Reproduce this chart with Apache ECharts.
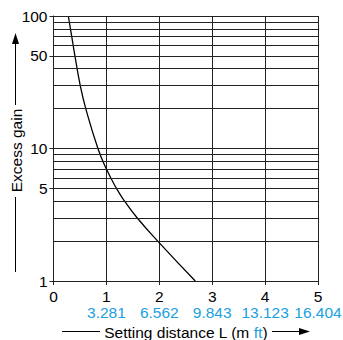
<!DOCTYPE html>
<html>
<head>
<meta charset="utf-8">
<script src="https://cdn.jsdelivr.net/npm/echarts@6/dist/echarts.min.js"></script>
</head>
<body style="margin:0;background:#fff">
<div id="container" style="width:343px;height:340px;"></div>
<script type="text/javascript">
// curve: [distance m, excess gain]
var curve = [[0.28, 100], [0.345, 70], [0.405, 50], [0.505, 30], [0.61, 20], [0.84, 10],
             [1.00, 7], [1.19, 5], [1.345, 4], [1.58, 3], [1.97, 2], [2.68, 1]];
var xTicks = [0, 1, 2, 3, 4, 5];
var ftLabels = ['', '3.281', '6.562', '9.843', '13.123', '16.404'];
var yLabels = [1, 5, 10, 50, 100];
var gridLevels = [2, 3, 4, 5, 6, 7, 8, 9, 10, 20, 30, 40, 50, 60, 70, 80, 90, 100];

var blue = '#1a9fe0';
var ink = '#222';
var font = 'Liberation Sans, Arial, sans-serif';
var fs = 15.5;

var dom = document.getElementById('container');
var myChart = echarts.init(dom, null, {renderer: 'svg'});
var option = {
    animation: false,
    textStyle: {fontFamily: font},
    grid: {left: 53.5, right: 25, top: 16, bottom: 59, outerBoundsMode: 'none', containLabel: false},
    xAxis: {
        type: 'value', min: 0, max: 5, interval: 1,
        axisLine: {onZero: false, lineStyle: {color: ink, width: 1}},
        axisTick: {length: 4, lineStyle: {color: ink}},
        splitLine: {show: true, lineStyle: {color: ink, width: 1}},
        axisLabel: {
            margin: 7,
            formatter: function (v) {
                var i = xTicks.indexOf(v);
                return '{m|' + v + '}\n{f|' + (ftLabels[i] || ' ') + '}';
            },
            rich: {
                m: {fontSize: fs, color: '#000', lineHeight: 16, fontFamily: font},
                f: {fontSize: fs, color: blue, lineHeight: 16, fontFamily: font}
            }
        },
        name: '{t|Setting distance L (m }{b|ft}{t|)}',
        nameLocation: 'middle',
        nameGap: 43,
        nameTextStyle: {
            rich: {
                t: {fontSize: fs, color: '#000', fontFamily: font},
                b: {fontSize: fs, color: blue, fontFamily: font}
            }
        }
    },
    yAxis: {
        type: 'log', logBase: 10, min: 1, max: 100,
        axisLine: {lineStyle: {color: ink, width: 1}},
        axisTick: {show: true, length: 4, customValues: yLabels, lineStyle: {color: ink}},
        splitLine: {show: false},
        minorTick: {show: false},
        axisLabel: {margin: 6, fontSize: fs, color: '#000', customValues: yLabels, fontFamily: font}
    },
    graphic: [
        {type: 'text', x: 16, y: 150.5, rotation: Math.PI / 2,
         style: {text: 'Excess gain', fontSize: fs, fontFamily: font, fill: '#000', align: 'center', verticalAlign: 'middle'}},
        {type: 'line', shape: {x1: 15.5, y1: 197, x2: 15.5, y2: 272}, style: {stroke: '#000', lineWidth: 1}},
        {type: 'line', shape: {x1: 15.5, y1: 105, x2: 15.5, y2: 42}, style: {stroke: '#000', lineWidth: 1}},
        {type: 'polygon', shape: {points: [[15.5, 33], [12, 44], [19, 44]]}, style: {fill: '#000'}},
        {type: 'line', shape: {x1: 62, y1: 331.5, x2: 100, y2: 331.5}, style: {stroke: '#000', lineWidth: 1}},
        {type: 'line', shape: {x1: 272, y1: 331.5, x2: 302, y2: 331.5}, style: {stroke: '#000', lineWidth: 1}},
        {type: 'polygon', shape: {points: [[310, 331.5], [299, 328], [299, 335]]}, style: {fill: '#000'}}
    ],
    series: [{
        type: 'line',
        data: curve,
        smooth: 0.5,
        showSymbol: false,
        lineStyle: {color: '#000', width: 1.3},
        markLine: {
            silent: true,
            symbol: 'none',
            label: {show: false},
            lineStyle: {color: ink, width: 1, type: 'solid'},
            data: gridLevels.map(function (g) { return {yAxis: g}; })
        }
    }]
};
myChart.setOption(option);
</script>
</body>
</html>
